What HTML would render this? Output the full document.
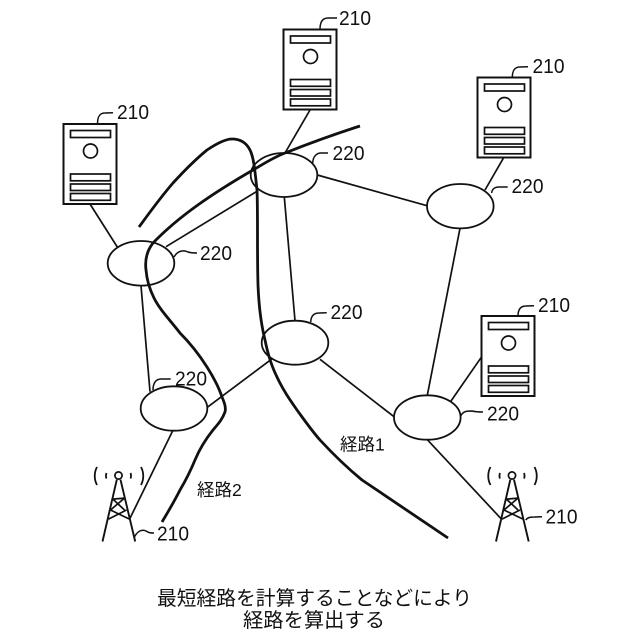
<!DOCTYPE html>
<html lang="ja">
<head>
<meta charset="utf-8">
<title>経路</title>
<style>
html,body{margin:0;padding:0;background:#fff;}
svg{display:block;}
text{font-family:"Liberation Sans","Noto Sans CJK JP",sans-serif;fill:#111;}
.n{font-size:20px;}
.c{font-size:17.5px;}
.b{font-size:19.8px;}
</style>
</head>
<body>
<svg width="640" height="640" viewBox="0 0 640 640" xmlns="http://www.w3.org/2000/svg">
<defs>
<g id="srv" fill="none" stroke="#111" stroke-width="1.7">
<rect x="0" y="0" width="53" height="80" stroke-width="2"/>
<rect x="7" y="6.5" width="40" height="7"/>
<circle cx="27" cy="27" r="7"/>
<rect x="7" y="50" width="40" height="6.8"/>
<rect x="7" y="60" width="40" height="6.5"/>
<rect x="7" y="69.5" width="40" height="6.8"/>
</g>
<g id="twr" fill="none" stroke="#111" stroke-width="1.7">
<circle cx="0" cy="0" r="3.6"/>
<path d="M-1.7 4.2 L-16 66 M2 4.2 L16.7 66" stroke-width="1.9"/>
<path d="M-5.6 23.6 L6 34.5 M6 22.6 L-8 34.5 M-8 34.5 L11 43.6 M8 34.5 L-10 43.6 M-5.6 23.6 L6 22.6"/>
<path d="M-21.5 -8.5 C-24.5 -3 -24.5 4 -21.5 9.5 M22.5 -8.5 C25.5 -3 25.5 4 22.5 9.5" stroke-width="1.8"/>
<path d="M-12 -2.5 C-12.8 -0.5 -12.8 1 -12 3 M12 -2.5 C12.8 -0.5 12.8 1 12 3" stroke-width="1.8"/>
</g>
</defs>

<!-- thin links -->
<g fill="none" stroke="#111" stroke-width="1.7">
<path d="M90 204 L117.3 247"/>
<path d="M166 246.7 L258 190.7"/>
<path d="M310 110 L285 153"/>
<path d="M317.3 175 L427 205.7"/>
<path d="M503.3 158.3 L485 190"/>
<path d="M284.3 197 L295 320.7"/>
<path d="M460 228.3 L427.3 395.3"/>
<path d="M141 285.7 L150 391.7"/>
<path d="M207.3 407.3 L272.7 358.3"/>
<path d="M320 359.3 L394 416.7"/>
<path d="M451 401 L481.7 356.7"/>
<path d="M427.3 439.7 L500.7 518.3"/>
<path d="M172.7 430.7 L130 518.3"/>
</g>

<!-- nodes -->
<g fill="none" stroke="#111" stroke-width="1.8">
<ellipse cx="141" cy="263.3" rx="33.3" ry="22.3"/>
<ellipse cx="284" cy="175" rx="33.3" ry="22"/>
<ellipse cx="460.3" cy="206.2" rx="33.3" ry="22.2"/>
<ellipse cx="295" cy="342.7" rx="33.3" ry="22"/>
<ellipse cx="174" cy="408.5" rx="33.3" ry="22.2"/>
<ellipse cx="427.3" cy="417.5" rx="33.3" ry="22.2"/>
</g>

<use href="#srv" x="63.5" y="124"/>
<use href="#srv" x="283.5" y="29.5"/>
<use href="#srv" x="477.5" y="77.5"/>
<use href="#srv" x="481.5" y="316"/>
<use href="#twr" x="118.5" y="475.5"/>
<use href="#twr" x="512" y="475.5"/>

<!-- routes -->
<g fill="none" stroke="#111" stroke-width="2.8" stroke-linecap="butt" stroke-linejoin="round">
<path d="M360 126 C335 134 310 143 285 153 C272 158 262 165 253 170 C215 192 180 215 153 243 C146 252 145 262 146 270 C147 282 150 290 154 298 C160 310 170 320 180 333 C192 345 200 356 207 367 C214 378 219 388 222 397 C225 404 226 408 225 412 C222 420 218 424 213 430 C205 440 200 448 195 460 C190 472 186 480 180 490 C174 502 168 512 162 522"/>
<path d="M139 227 C150 212 160 198 173 183 C184 171 196 159 207 150 C216 144 225 139 232 139 C240 139 246 142 250 150 C254 158 255 172 257 190 C258 215 257 250 258 285 C259 310 262 328 265 340 C268 355 272 367 277 377 C283 390 290 400 297 410 C305 421 312 431 320 440 C332 453 345 466 362 480 L448 538"/>
</g>

<!-- leaders -->
<g fill="none" stroke="#111" stroke-width="1.5">
<path d="M97.5 124 C97.5 116 100 113 105 113 L113 112.7"/>
<path d="M320 29.3 C320 21 323 18 328 18 L337 18"/>
<path d="M512.3 77.7 C512.3 70 515 67 520 67 L528 66.7"/>
<path d="M518 316 C518 309 521 306 526 306 L534 305.7"/>
<path d="M174 257 C178 250 184 250 188 252 C191 253 194 253 197 253"/>
<path d="M312.7 163 C313 156 317 153 321 153 L328 153"/>
<path d="M491.7 193 C492 189 495 187 499 187 L507.7 187"/>
<path d="M310.7 322 C311 316 314 313 319 313 L326.7 312.7"/>
<path d="M153 390 C153 383 156 379 161 379 L170.7 379"/>
<path d="M460.7 416 C463 411 467 411 472 411 C476 412 480 412 483 412"/>
<path d="M134 538 C137 531 142 529 146 531 C149 533 151 533 154 533"/>
<path d="M525.7 520 C528 517 531 517 535 517 L542 516.7"/>
</g>

<!-- labels -->
<text class="n" x="117" y="119" textLength="32" lengthAdjust="spacingAndGlyphs">210</text>
<text class="n" x="339" y="25" textLength="32" lengthAdjust="spacingAndGlyphs">210</text>
<text class="n" x="532.5" y="73" textLength="32" lengthAdjust="spacingAndGlyphs">210</text>
<text class="n" x="538" y="312" textLength="32" lengthAdjust="spacingAndGlyphs">210</text>
<text class="n" x="157" y="540.5" textLength="32" lengthAdjust="spacingAndGlyphs">210</text>
<text class="n" x="545.5" y="523.5" textLength="32" lengthAdjust="spacingAndGlyphs">210</text>
<text class="n" x="200" y="260" textLength="32" lengthAdjust="spacingAndGlyphs">220</text>
<text class="n" x="332.5" y="160" textLength="32" lengthAdjust="spacingAndGlyphs">220</text>
<text class="n" x="511.5" y="193" textLength="32" lengthAdjust="spacingAndGlyphs">220</text>
<text class="n" x="330.5" y="319" textLength="32" lengthAdjust="spacingAndGlyphs">220</text>
<text class="n" x="175" y="385.5" textLength="32" lengthAdjust="spacingAndGlyphs">220</text>
<text class="n" x="487" y="420.5" textLength="32" lengthAdjust="spacingAndGlyphs">220</text>

<text class="c" x="197" y="496">経路2</text>
<text class="c" x="340" y="450.5">経路1</text>

<text class="b" x="157" y="605" textLength="315" lengthAdjust="spacingAndGlyphs">最短経路を計算することなどにより</text>
<text class="b" x="243" y="627" textLength="142" lengthAdjust="spacingAndGlyphs">経路を算出する</text>
</svg>
</body>
</html>
